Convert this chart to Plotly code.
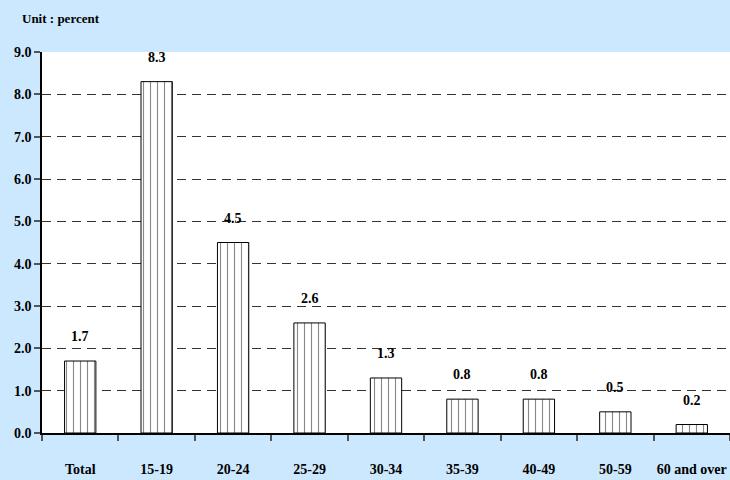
import plotly.graph_objects as go

categories = ["Total", "15-19", "20-24", "25-29", "30-34", "35-39", "40-49", "50-59", "60 and over"]
values = [1.7, 8.3, 4.5, 2.6, 1.3, 0.8, 0.8, 0.5, 0.2]
y_ticks = [0, 1, 2, 3, 4, 5, 6, 7, 8, 9]
y_tick_labels = ["0.0", "1.0", "2.0", "3.0", "4.0", "5.0", "6.0", "7.0", "8.0", "9.0"]

FONT = "Liberation Serif"
BG = "#CCE8FF"

fig = go.Figure()
fig.add_trace(go.Bar(
    x=categories,
    y=values,
    width=0.41,
    marker=dict(
        color="white",
        line=dict(color="black", width=1),
        pattern=dict(shape="|", fgcolor="#111111", bgcolor="white", size=7, solidity=0.16),
    ),
    hoverinfo="skip",
))

for c, v in zip(categories, values):
    fig.add_annotation(
        x=c, y=v, xref="x", yref="y",
        text="<b>%.1f</b>" % v,
        showarrow=False, yanchor="bottom", yshift=15,
        font=dict(family=FONT, size=14, color="black"),
    )

fig.add_annotation(
    x=-22 / 688, y=1 + (52 - 19) / 381, xref="paper", yref="paper",
    text="<b>Unit : percent</b>",
    showarrow=False, xanchor="left", yanchor="middle",
    font=dict(family=FONT, size=13, color="black"),
)

fig.update_layout(
    width=730, height=480,
    margin=dict(l=42, r=0, t=52, b=47, autoexpand=False),
    paper_bgcolor=BG,
    plot_bgcolor="white",
    showlegend=False,
    font=dict(family=FONT, size=14, color="black"),
    xaxis=dict(
        type="category",
        showgrid=False,
        showline=True, linecolor="black", linewidth=1.5,
        ticks="outside", ticklen=6, tickcolor="#555555", tickwidth=1.5,
        tickson="boundaries",
        tickangle=0,
        automargin=False,
        ticklabelstandoff=22,
        tickfont=dict(family=FONT, size=14, color="black", weight="bold"),
    ),
    yaxis=dict(
        range=[0, 9],
        tickvals=y_ticks, ticktext=y_tick_labels,
        showgrid=True, gridcolor="#333333", griddash="9px,6px", gridwidth=1,
        showline=True, linecolor="black", linewidth=1.5,
        ticks="outside", ticklen=6, tickcolor="#555555", tickwidth=1.5,
        zeroline=False,
        automargin=False,
        tickfont=dict(family=FONT, size=14, color="black", weight="bold"),
    ),
)

fig.write_html(
    "out.html",
    config={"displayModeBar": False},
    post_script="document.body.style.margin='0';document.body.style.padding='0';document.body.style.overflow='hidden';",
)
